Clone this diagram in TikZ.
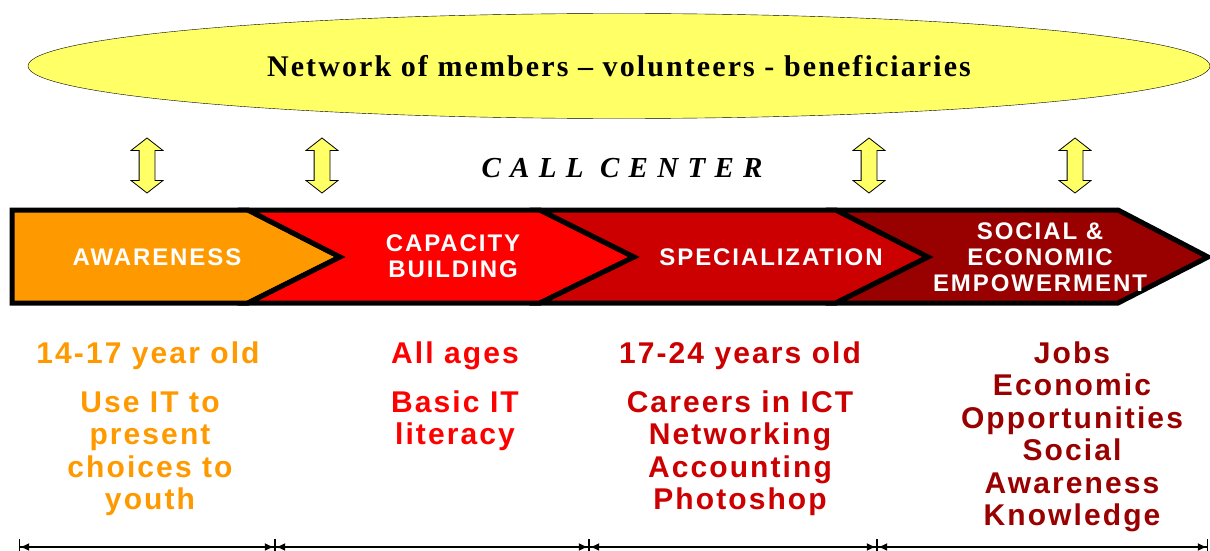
\documentclass[tikz,border=0pt]{standalone}
\usepackage{fontspec}
\setmainfont{Liberation Serif}
\setsansfont{Liberation Sans}
\newfontfamily\netfont[LetterSpace=7]{Liberation Serif}
\newfontfamily\callfont[LetterSpace=32]{Liberation Serif}
\newfontfamily\bandfont[LetterSpace=8]{Liberation Sans}
\newfontfamily\infofont[LetterSpace=7]{Liberation Sans}
\usetikzlibrary{shapes.geometric,shapes.arrows,arrows.meta}

\definecolor{awareorange}{HTML}{FF9900}
\definecolor{capred}{HTML}{FF0000}
\definecolor{specred}{HTML}{CC0000}
\definecolor{empred}{HTML}{990000}
\definecolor{netyellow}{HTML}{FFFF66}

\tikzset{
  stage/.style={draw=black, line width=5pt, line join=miter},
  stagelabel/.style={text=white, align=center, inner sep=0pt,
    font=\bandfont\bfseries\fontsize{24}{26}\selectfont},
  info/.style={align=center, inner sep=0pt, anchor=base,
    font=\infofont\bfseries\fontsize{30}{32.5}\selectfont},
  link/.style={double arrow, draw=black, line width=0.8pt, fill=netyellow,
    rotate=90, inner xsep=0pt, inner ysep=7.5pt, minimum height=55pt, minimum width=31pt,
    double arrow head extend=8pt, double arrow tip angle=104},
  span/.style={line width=1.2pt,
    {Bar[width=16pt]Latex[length=9pt,width=8pt]}-{Latex[length=9pt,width=8pt]Bar[width=16pt]}}
}

\begin{document}
\begin{tikzpicture}[x=1pt, y=-1pt]
  \useasboundingbox (0,0) rectangle (1210,551);

  % network
  \node[ellipse, draw, fill=netyellow, minimum width=1182pt, minimum height=105pt,
    font=\netfont\bfseries\fontsize{30}{36}\selectfont] (net) at (619,66)
    {Network of members \textendash{} volunteers - beneficiaries};

  \foreach \x/\n in {147/1, 322/2, 869/3, 1075/4}
    \node[link] (link\n) at (\x,165.5) {};

  \node[font=\callfont\bfseries\itshape\fontsize{29}{30}\selectfont, anchor=base] (call) at (622,177) {CALL CENTER};

  % stages
  \draw[stage, fill=awareorange] (12,210) -- (248,210) -- (340,257) -- (248,303) -- (12,303) -- cycle;
  \draw[stage, fill=capred] (248,210) -- (540,210) -- (634,257) -- (540,303) -- (248,303) -- (340,257) -- cycle;
  \draw[stage, fill=specred] (540,210) -- (836,210) -- (928,257) -- (836,303) -- (540,303) -- (634,257) -- cycle;
  \draw[stage, fill=empred] (836,210) -- (1118,210) -- (1208,257) -- (1118,303) -- (836,303) -- (928,257) -- cycle;

  \node[stagelabel] (aware) at (157,257) {AWARENESS};
  \node[stagelabel] (capacity) at (453,256) {CAPACITY\\BUILDING};
  \node[stagelabel] (special) at (771,257) {SPECIALIZATION};
  \node[stagelabel] (empower) at (1040,257) {SOCIAL \&\\ECONOMIC\\EMPOWERMENT};

  % target groups (base = last line)
  \node[info, text=awareorange] (age1) at (148,363) {14-17 year old};
  \node[info, text=awareorange] (goal1) at (150,509.5) {Use IT to\\present\\choices to\\youth};
  \node[info, text=capred] (age2) at (455,363) {All ages};
  \node[info, text=capred] (goal2) at (455,444.5) {Basic IT\\literacy};
  \node[info, text=specred] (age3) at (740,363) {17-24 years old};
  \node[info, text=specred] (goal3) at (740,509.5) {Careers in ICT\\Networking\\Accounting\\Photoshop};
  \node[info, text=empred] (goal4) at (1072,525.5) {Jobs\\Economic\\Opportunities\\Social\\Awareness\\Knowledge};

  % periods
  \coordinate (t0) at (19,547);
  \coordinate (t1) at (275,547);
  \coordinate (t2) at (589,547);
  \coordinate (t3) at (877,547);
  \coordinate (t4) at (1208,547);
  \draw[span] (t0) -- (t1);
  \draw[span] (t1) -- (t2);
  \draw[span] (t2) -- (t3);
  \draw[span] (t3) -- (t4);
\end{tikzpicture}
\end{document}
